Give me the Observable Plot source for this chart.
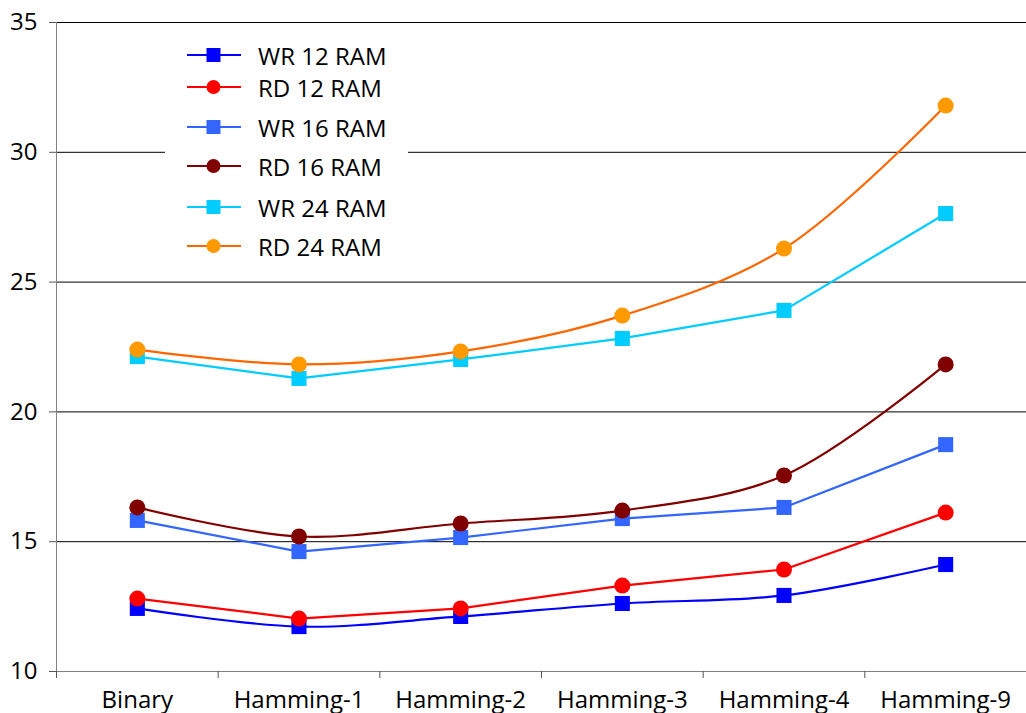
<!DOCTYPE html>
<html><head><meta charset="utf-8">
<script src="https://cdn.jsdelivr.net/npm/d3@7"></script>
<script src="https://cdn.jsdelivr.net/npm/@observablehq/plot@0.6"></script>
<style>
body{margin:0;background:#fff;font-family:"Open Sans",sans-serif}
#wrap{position:relative;width:1026px;height:713px}
#legend{position:absolute;left:165px;top:30px;width:243px;height:235px;background:#fff}
.row{position:absolute;left:22px;height:30px;display:flex;align-items:center;font-size:24px;color:#000;white-space:nowrap}
.row svg{margin-right:17px}
</style></head><body><div id="wrap"></div>
<script>
const categories = ["Binary","Hamming-1","Hamming-2","Hamming-3","Hamming-4","Hamming-9"];
const yTicks = [10,15,20,25,30,35];
const gridValues = [15,20,25,30,35];
const wr12 = [12.43, 11.73, 12.12, 12.62, 12.93, 14.12];
const rd12 = [12.81, 12.04, 12.43, 13.31, 13.93, 16.12];
const wr16 = [15.82, 14.62, 15.16, 15.89, 16.32, 18.74];
const rd16 = [16.32, 15.20, 15.70, 16.20, 17.55, 21.83];
const wr24 = [22.13, 21.29, 22.02, 22.83, 23.91, 27.64];
const rd24 = [22.40, 21.83, 22.33, 23.71, 26.29, 31.80];
const seriesNames = ["WR 12 RAM","RD 12 RAM","WR 16 RAM","RD 16 RAM","WR 24 RAM","RD 24 RAM"];

const series = [
  {name:seriesNames[0], values:wr12, line:"#0000ff", fill:"#0000ff", symbol:"square", curve:"catmull-rom"},
  {name:seriesNames[1], values:rd12, line:"#ff0000", fill:"#ff0000", symbol:"circle", curve:"linear"},
  {name:seriesNames[2], values:wr16, line:"#3366ff", fill:"#3366ff", symbol:"square", curve:"linear"},
  {name:seriesNames[3], values:rd16, line:"#800000", fill:"#800000", symbol:"circle", curve:"catmull-rom"},
  {name:seriesNames[4], values:wr24, line:"#00ccff", fill:"#00ccff", symbol:"square", curve:"linear"},
  {name:seriesNames[5], values:rd24, line:"#ff6600", fill:"#ff9900", symbol:"circle", curve:"catmull-rom"}
];

const idx = categories.map((c,i)=>i);
const bounds = categories.map((c,i)=>i-0.5).concat([categories.length-0.5]);

const marks = [
  Plot.ruleY(gridValues, {stroke:"#000", strokeWidth:1}),
  Plot.ruleX([-0.5], {stroke:"#808080", strokeWidth:1}),
  Plot.ruleY([10], {stroke:"#808080", strokeWidth:1}),
  Plot.axisY({ticks:yTicks, tickSize:7, tickPadding:12, fontSize:24, stroke:"#555", fill:"#000", label:null}),
  Plot.axisX({ticks:bounds, tickSize:7, tickFormat:()=>"", stroke:"#555", label:null}),
  Plot.axisX({ticks:idx, tickSize:0, tickPadding:19, fontSize:24, fill:"#000", tickFormat:i=>categories[i], label:null})
];
for (const s of series) {
  const data = s.values.map((v,i)=>({i, v}));
  marks.push(Plot.line(data, {x:"i", y:"v", stroke:s.line, strokeWidth:2.2, curve:s.curve}));
  marks.push(Plot.dot(data, {x:"i", y:"v", symbol:s.symbol, r:s.symbol==="square"?8.5:8, fill:s.fill, stroke:"none"}));
}

const chart = Plot.plot({
  width:1026, height:713,
  marginLeft:56, marginRight:0, marginTop:22, marginBottom:42,
  style:{fontFamily:"Open Sans, sans-serif", fontSize:"24px", color:"#000", background:"#fff", overflow:"visible"},
  x:{domain:[-0.5, categories.length-0.5]},
  y:{domain:[10,35]},
  marks
});
const wrap = document.getElementById("wrap");
wrap.appendChild(chart);

const legend = document.createElement("div");
legend.id = "legend";
const rowY = [25, 57, 97, 136, 177, 216];
series.forEach((s,k)=>{
  const row = document.createElement("div");
  row.className = "row";
  row.style.top = (rowY[k]-15)+"px";
  const ns = "http://www.w3.org/2000/svg";
  const svg = document.createElementNS(ns,"svg");
  svg.setAttribute("width","54"); svg.setAttribute("height","30");
  const ln = document.createElementNS(ns,"line");
  ln.setAttribute("x1","0"); ln.setAttribute("x2","54"); ln.setAttribute("y1","15"); ln.setAttribute("y2","15");
  ln.setAttribute("stroke", s.line); ln.setAttribute("stroke-width","2.2");
  svg.appendChild(ln);
  if (s.symbol==="square") {
    const r = document.createElementNS(ns,"rect");
    r.setAttribute("x","19.5"); r.setAttribute("y","8"); r.setAttribute("width","14"); r.setAttribute("height","14");
    r.setAttribute("fill", s.fill); svg.appendChild(r);
  } else {
    const c = document.createElementNS(ns,"circle");
    c.setAttribute("cx","26.5"); c.setAttribute("cy","15"); c.setAttribute("r","7");
    c.setAttribute("fill", s.fill); svg.appendChild(c);
  }
  row.appendChild(svg);
  const t = document.createElement("span");
  t.textContent = s.name;
  row.appendChild(t);
  legend.appendChild(row);
});
wrap.appendChild(legend);
</script></body></html>
